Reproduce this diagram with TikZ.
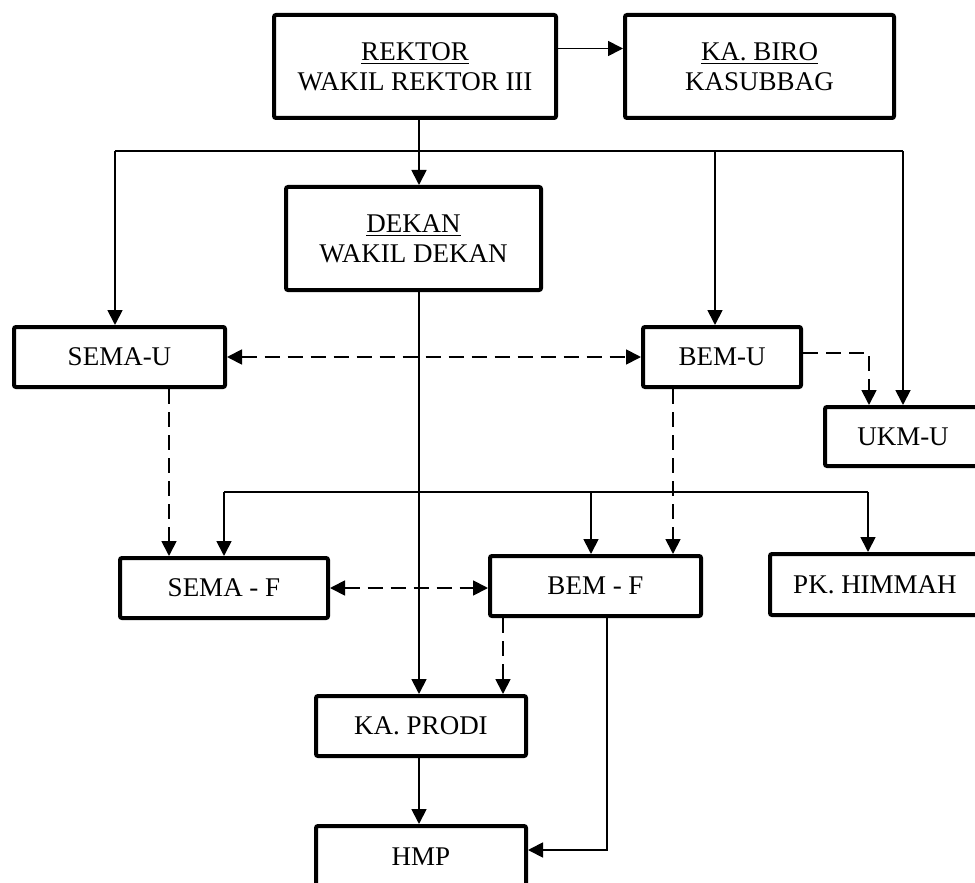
\documentclass[tikz,border=0pt]{standalone}
\usepackage{fontspec}
\setmainfont{Liberation Serif}
\usetikzlibrary{arrows.meta}

\begin{document}
\begin{tikzpicture}[x=0.5pt,y=-0.5pt,>={Triangle[length=7.5pt,width=7.5pt]},
    box/.style={draw,line width=2pt,rounded corners=1pt,inner sep=0pt,align=center,
      font=\fontsize{13.5}{15}\selectfont},
    link/.style={line width=0.9pt},
    dashlink/.style={line width=0.9pt,dash pattern=on 7.5pt off 4pt}]

    \useasboundingbox (0,0) rectangle (975,883);

    \node[box,minimum width=141pt,minimum height=51.5pt] (rektor) at (415,66.5) {\underline{REKTOR}\\WAKIL REKTOR III};
    \node[box,minimum width=134.5pt,minimum height=51.5pt] (biro) at (759.5,66.5) {\underline{KA. BIRO}\\KASUBBAG};
    \node[box,minimum width=127.5pt,minimum height=51.5pt] (dekan) at (413.5,238.5) {\underline{DEKAN}\\WAKIL DEKAN};
    \node[box,minimum width=105.5pt,minimum height=30pt] (semau) at (119.5,357) {SEMA-U};
    \node[box,minimum width=79pt,minimum height=30pt] (bemu) at (722,357) {BEM-U};
    \node[box,minimum width=78pt,minimum height=29.5pt] (ukmu) at (903,436.5) {UKM-U};
    \node[box,minimum width=104pt,minimum height=30pt] (semaf) at (224,588) {SEMA - F};
    \node[box,minimum width=105.5pt,minimum height=30pt] (bemf) at (595.5,586) {BEM - F};
    \node[box,minimum width=105pt,minimum height=30.5pt] (himmah) at (875,584.5) {PK. HIMMAH};
    \node[box,minimum width=105pt,minimum height=30pt] (prodi) at (421,726) {KA. PRODI};
    \node[box,minimum width=105pt,minimum height=31pt] (hmp) at (421,857) {HMP};

    % lanes and buses
    \coordinate (bus1) at (419,151);
    \coordinate (bus2) at (419,492);
    \coordinate (laneD) at (419,0);
    \coordinate (xSU) at (115,0);
    \coordinate (xBU) at (715,0);
    \coordinate (xUK) at (903,0);
    \coordinate (xUKd) at (869,0);
    \coordinate (xSUd) at (169,0);
    \coordinate (xBUd) at (673,0);
    \coordinate (xSF) at (224,0);
    \coordinate (xBF) at (591,0);
    \coordinate (xPK) at (868,0);
    \coordinate (xBFd) at (503,0);
    \coordinate (xBFs) at (607,0);
    \coordinate (yHMP) at (0,850);

    \draw[link,->] ([yshift=9pt]rektor.east) -- ([yshift=9pt]biro.west);
    \draw[link,->] (rektor.south -| laneD) -- (dekan.north -| laneD);

    \draw[link] (bus1 -| xSU) -- (bus1 -| xUK);
    \foreach \x/\n in {xSU/semau,xBU/bemu,xUK/ukmu}
      \draw[link,->] (bus1 -| \x) -- (\n.north -| \x);

    \draw[dashlink,<->] (semau.east) -- (bemu.west);
    \draw[dashlink,->] ([yshift=2pt]bemu.east) -| (ukmu.north -| xUKd);
    \draw[dashlink,->] (semau.south -| xSUd) -- (semaf.north -| xSUd);
    \draw[dashlink,->] (bemu.south -| xBUd) -- (bemf.north -| xBUd);
    \draw[dashlink,<->] (semaf.east) -- (semaf.east -| bemf.west);

    \draw[link] (bus2 -| xSF) -- (bus2 -| xPK);
    \foreach \x/\n in {xSF/semaf,xBF/bemf,xPK/himmah}
      \draw[link,->] (bus2 -| \x) -- (\n.north -| \x);

    \draw[link,->] (dekan.south -| laneD) -- (prodi.north -| laneD);
    \draw[dashlink,->] (bemf.south -| xBFd) -- (prodi.north -| xBFd);
    \draw[link,->] (bemf.south -| xBFs) |- (hmp.east |- yHMP);
    \draw[link,->] (prodi.south -| laneD) -- (hmp.north -| laneD);

\end{tikzpicture}
\end{document}
